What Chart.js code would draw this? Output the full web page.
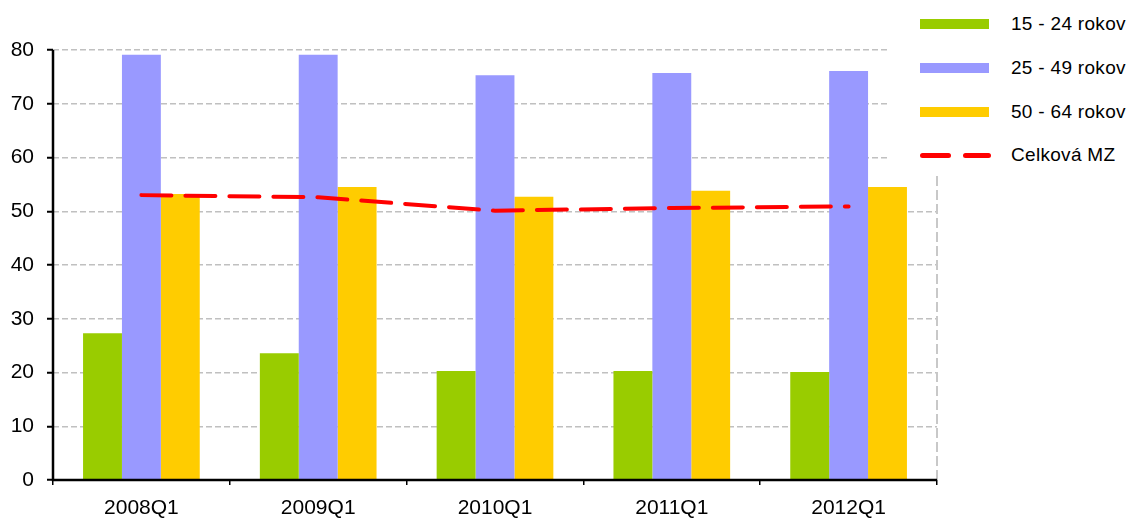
<!DOCTYPE html>
<html>
<head>
<meta charset="utf-8">
<script src="https://cdn.jsdelivr.net/npm/chart.js@4"></script>
<style>
  body { margin: 0; background: #fff; font-family: "Liberation Sans", Arial, sans-serif; }
  #wrap { position: relative; width: 1130px; height: 518px; }
  #legend { position: absolute; left: 888px; top: 0; width: 242px; height: 174px; background: #fff; }
  .row { position: absolute; left: 32px; height: 20px; font-size: 19px; color: #000; }
  .sw { position: absolute; left: 0; width: 69px; height: 10px; }
  .lbl { position: absolute; left: 91px; top: -11px; white-space: nowrap; line-height: 22px; letter-spacing: 0.3px; }
  .dash { position: absolute; height: 5px; border-radius: 3px; background: #ff0000; }
</style>
</head>
<body>
<div id="wrap">
  <canvas id="chart" width="1130" height="518"></canvas>
  <div id="legend"></div>
</div>
<script>
// --- données ---
const categories = ['2008Q1', '2009Q1', '2010Q1', '2011Q1', '2012Q1'];
const serie1524 = [27.3, 23.6, 20.3, 20.3, 20.1];
const serie2549 = [79.1, 79.1, 75.3, 75.7, 76.1];
const serie5064 = [53.2, 54.5, 52.7, 53.8, 54.5];
const celkovaMZ = [53.0, 52.6, 50.1, 50.6, 50.9];
const yTicks = [0, 10, 20, 30, 40, 50, 60, 70, 80];

const labels = ['15 - 24 rokov', '25 - 49 rokov', '50 - 64 rokov', 'Celková MZ'];
const colors = ['#99cc00', '#9999ff', '#ffcc00', '#ff0000'];

// --- légende HTML ---
const legend = document.getElementById('legend');
const rowY = [24, 68, 112, 155];
labels.forEach((txt, i) => {
    const row = document.createElement('div');
    row.className = 'row';
    row.style.top = rowY[i] + 'px';
    if (i < 3) {
        row.innerHTML = `<div class="sw" style="top:-5px;background:${colors[i]}"></div>`;
    } else {
        row.innerHTML = `<div class="dash" style="left:0;width:31px;top:-2px"></div>` +
                        `<div class="dash" style="left:43px;width:28px;top:-2px"></div>`;
    }
    row.innerHTML += `<div class="lbl">${txt}</div>`;
    legend.appendChild(row);
});

// axes pleins + bordure droite en pointillés
const axesLines = {
    id: 'axesLines',
    afterDatasetsDraw(chart) {
        const { ctx, chartArea } = chart;
        ctx.save();
        ctx.strokeStyle = '#c8c8c8';
        ctx.lineWidth = 2;
        ctx.setLineDash([10, 4]);
        ctx.beginPath();
        ctx.moveTo(chartArea.right, chartArea.top);
        ctx.lineTo(chartArea.right, chartArea.bottom);
        ctx.stroke();
        ctx.setLineDash([]);
        ctx.strokeStyle = '#000';
        ctx.lineWidth = 2.5;
        ctx.beginPath();
        ctx.moveTo(chartArea.left, chartArea.top);
        ctx.lineTo(chartArea.left, chartArea.bottom);
        ctx.lineTo(chartArea.right, chartArea.bottom);
        ctx.stroke();
        ctx.restore();
    }
};

const ctx = document.getElementById('chart').getContext('2d');
new Chart(ctx, {
    data: {
        labels: categories,
        datasets: [
            { type: 'line', label: labels[3], data: celkovaMZ, borderColor: colors[3], borderWidth: 4,
              borderDash: [30, 14], pointRadius: 0, fill: false, tension: 0, order: 0, borderCapStyle: 'round' },
            { type: 'bar', label: labels[0], data: serie1524, backgroundColor: colors[0], order: 1 },
            { type: 'bar', label: labels[1], data: serie2549, backgroundColor: colors[1], order: 1 },
            { type: 'bar', label: labels[2], data: serie5064, backgroundColor: colors[2], order: 1 }
        ]
    },
    options: {
        responsive: false,
        animation: false,
        layout: { padding: { top: 50, right: 193, left: 0, bottom: 0 } },
        datasets: { bar: { barPercentage: 1, categoryPercentage: 0.66 } },
        plugins: { legend: { display: false }, tooltip: { enabled: false } },
        scales: {
            x: {
                afterFit(axis) { axis.height = 38; },
                border: { display: false },
                grid: { offset: true, drawOnChartArea: false, drawTicks: true, tickLength: 5, color: '#000', lineWidth: 1.5 },
                ticks: { color: '#000', font: { family: 'Liberation Sans', size: 21 }, padding: 11 }
            },
            y: {
                min: 0, max: 80,
                afterFit(axis) { axis.width = 53; },
                afterBuildTicks(axis) { axis.ticks = yTicks.map(v => ({ value: v })); },
                border: { display: false, dash: [6, 3] },
                grid: { color: '#c0c0c0', lineWidth: 1.5, tickLength: 6, tickColor: '#000', tickWidth: 2, tickBorderDash: [1, 0] },
                ticks: { color: '#000', font: { family: 'Liberation Sans', size: 21 }, padding: 13 }
            }
        }
    },
    plugins: [axesLines]
});
</script>
</body>
</html>
